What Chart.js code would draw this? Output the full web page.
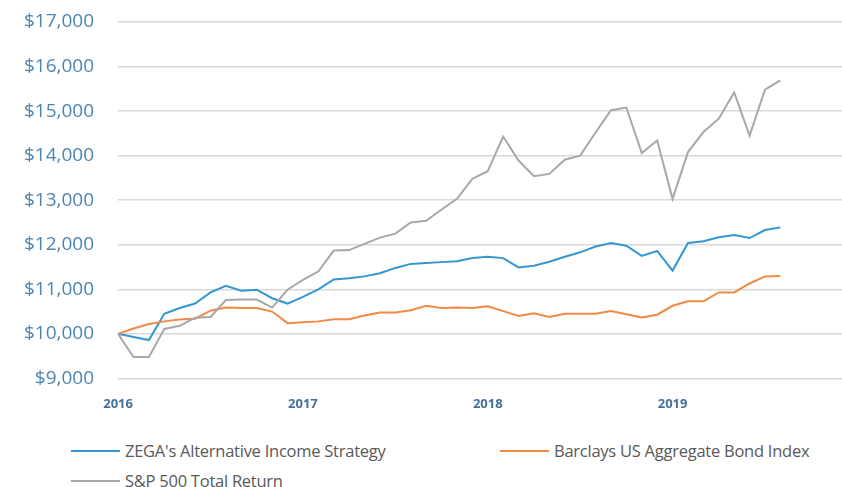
<!DOCTYPE html>
<html>
<head>
<meta charset="utf-8">
<script src="https://cdn.jsdelivr.net/npm/chart.js@4"></script>
<style>
  body { margin: 0; background: #fff; }
  #wrap { position: relative; width: 842px; height: 487px; overflow: hidden; }
  #growth { position: absolute; left: 0; top: 0; }
  .leg { position: absolute; font-family: 'Open Sans', sans-serif; font-size: 16.5px; color: #595959;
         display: flex; align-items: center; white-space: nowrap; letter-spacing: -0.25px; line-height: 20px; }
  .leg span.ln { display: inline-block; width: 49px; height: 2px; margin-right: 5px; }
</style>
</head>
<body>
<div id="wrap">
  <canvas id="growth" width="842" height="420"></canvas>
  <div id="legend"></div>
</div>
<script>
// months Jan 2016 .. Dec 2019 (axis runs a bit past the last data point)
const months = [];
for (let y = 2016; y <= 2019; y++) {
  for (let m = 1; m <= 12; m++) months.push(y + '-' + String(m).padStart(2, '0'));
}

// growth of $10,000, monthly, Jan 2016 - Aug 2019
const zega = [10000, 9930, 9860, 10450, 10580, 10680, 10930, 11080, 10970, 10990, 10800, 10680,
  10830, 11000, 11220, 11250, 11290, 11360, 11480, 11570, 11590, 11610, 11630, 11700,
  11730, 11700, 11490, 11530, 11620, 11730, 11830, 11960, 12040, 11980, 11750, 11860,
  11420, 12040, 12080, 12170, 12220, 12150, 12330, 12390];

const barclays = [10000, 10120, 10220, 10280, 10320, 10340, 10520, 10590, 10580, 10580, 10500, 10240,
  10260, 10280, 10330, 10330, 10410, 10480, 10480, 10530, 10630, 10580, 10590, 10580,
  10620, 10510, 10400, 10460, 10380, 10450, 10450, 10450, 10510, 10440, 10370, 10430,
  10630, 10730, 10730, 10930, 10930, 11130, 11290, 11300];

const sp500 = [10000, 9480, 9480, 10110, 10180, 10360, 10380, 10760, 10770, 10770, 10590, 10990,
  11210, 11400, 11870, 11880, 12020, 12160, 12250, 12500, 12540, 12790, 13030, 13480,
  13650, 14430, 13890, 13540, 13590, 13910, 14000, 14520, 15020, 15080, 14060, 14340,
  13030, 14080, 14530, 14830, 15420, 14450, 15480, 15690];

const seriesNames = ["ZEGA's Alternative Income Strategy", 'Barclays US Aggregate Bond Index', 'S&P 500 Total Return'];
const seriesColors = ['#3597cf', '#f08a45', '#a8a8a8'];

const mkSet = (i, vals) => ({
  label: seriesNames[i],
  data: vals,
  borderColor: seriesColors[i],
  backgroundColor: seriesColors[i],
  borderWidth: 2,
  pointRadius: 0,
  tension: 0,
  fill: false
});

// drop the label overflow padding so the plot reaches the original edges
const noPad = scale => {
  scale.paddingTop = 0;
  scale.paddingRight = 0;
  scale.paddingBottom = 0;
};

const config = {
  type: 'line',
  data: {
    labels: months,
    datasets: [mkSet(2, sp500), mkSet(1, barclays), mkSet(0, zega)]
  },
  options: {
    responsive: false,
    animation: false,
    layout: { padding: { top: 22, right: 0, bottom: -10, left: 0 } },
    plugins: {
      legend: { display: false },
      tooltip: { enabled: false }
    },
    scales: {
      x: {
        offset: false,
        afterFit: noPad,
        grid: { display: false, drawTicks: false },
        border: { display: false },
        ticks: {
          autoSkip: false,
          maxRotation: 0,
          padding: 18,
          color: '#45709a',
          font: { family: 'Open Sans', size: 13, weight: 'bold' },
          callback: function (v, i) {
            const lab = months[i];
            return lab.endsWith('-01') ? lab.slice(0, 4) : '';
          }
        }
      },
      y: {
        min: 9000,
        max: 17000,
        afterFit: noPad,
        grid: { color: '#d9d9d9', lineWidth: 1.5, drawTicks: false },
        border: { display: false },
        ticks: {
          stepSize: 1000,
          padding: 24,
          color: '#4d85b3',
          font: { family: 'Open Sans', size: 19 },
          callback: v => '$' + v.toLocaleString('en-US')
        }
      }
    }
  }
};

const chart = new Chart(document.getElementById('growth'), config);

// legend laid out like the original: two columns, wrapped
const legPos = [[71, 441], [500, 441], [71, 471]];
const legend = document.getElementById('legend');
seriesNames.forEach((name, i) => {
  const d = document.createElement('div');
  d.className = 'leg';
  d.style.left = legPos[i][0] + 'px';
  d.style.top = legPos[i][1] + 'px';
  d.innerHTML = '<span class="ln" style="background:' + seriesColors[i] + '"></span>';
  d.appendChild(document.createTextNode(name));
  legend.appendChild(d);
});
</script>
</body>
</html>
